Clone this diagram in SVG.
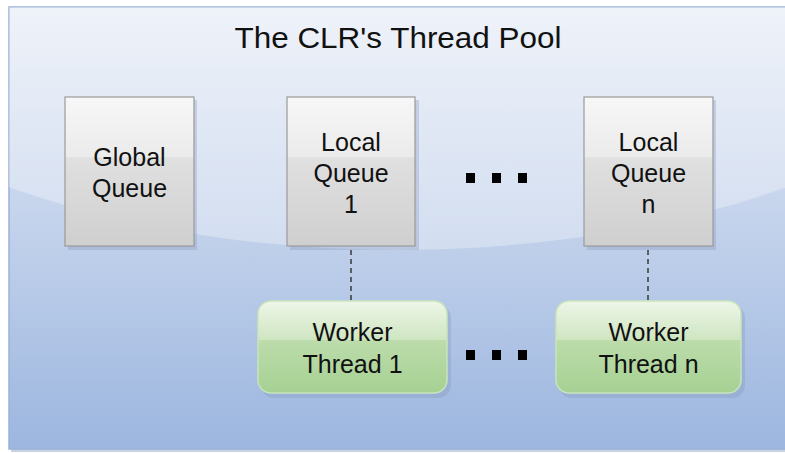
<svg xmlns="http://www.w3.org/2000/svg" width="785" height="453" viewBox="0 0 785 453">
<defs>
<linearGradient id="bg" x1="0" y1="0" x2="0" y2="1">
<stop offset="0" stop-color="#e8edf7"/>
<stop offset="1" stop-color="#9cb6df"/>
</linearGradient>
<linearGradient id="gray" x1="0" y1="0" x2="0" y2="1">
<stop offset="0" stop-color="#f7f7f7"/>
<stop offset="0.4" stop-color="#ebebeb"/>
<stop offset="0.41" stop-color="#e0e0e0"/>
<stop offset="1" stop-color="#cfcfcf"/>
</linearGradient>
<linearGradient id="green" x1="0" y1="0" x2="0" y2="1">
<stop offset="0" stop-color="#eef6e8"/>
<stop offset="0.42" stop-color="#cfe6c2"/>
<stop offset="0.43" stop-color="#bcdcab"/>
<stop offset="1" stop-color="#a6d193"/>
</linearGradient>
<clipPath id="panelClip"><rect x="9" y="7" width="780" height="442"/></clipPath>
</defs>
<style>
.q{fill:url(#gray);stroke:#9a9a9a;stroke-width:1.2}
.w{fill:url(#green);stroke:#c9e3bc;stroke-width:1.5}
.sh{fill:#7f93b5;opacity:0.3}
.t{font-family:"Liberation Sans",Arial,sans-serif;font-size:25px;fill:#111;text-anchor:middle}
.dot{fill:#000}
.conn{stroke:#222;stroke-width:1.3;stroke-dasharray:5,4;fill:none}
</style>
<rect x="11" y="10" width="778" height="442" fill="#c8d2e2"/>
<rect x="9" y="7" width="780" height="442" fill="url(#bg)" stroke="#9bb1d9" stroke-width="1.5"/>
<g clip-path="url(#panelClip)">
<ellipse cx="398" cy="-123" rx="700" ry="373" fill="#ffffff" opacity="0.3"/>
</g>
<text x="398" y="48" font-family="'Liberation Sans',Arial,sans-serif" font-size="29" fill="#111" text-anchor="middle" textLength="327" lengthAdjust="spacingAndGlyphs">The CLR's Thread Pool</text>
<g id="connectors">
<line class="conn" x1="351" y1="250" x2="351" y2="300"/>
<line class="conn" x1="648" y1="250" x2="648" y2="300"/>
</g>
<g id="dots1">
<rect class="dot" x="466" y="173" width="9" height="10"/>
<rect class="dot" x="492" y="173" width="9" height="10"/>
<rect class="dot" x="518" y="173" width="9" height="10"/>
</g>
<g id="dots2">
<rect class="dot" x="466" y="350" width="9" height="10"/>
<rect class="dot" x="492" y="350" width="9" height="10"/>
<rect class="dot" x="518" y="350" width="9" height="10"/>
</g>
<g id="global-queue">
<rect class="sh" x="68" y="100" width="129" height="150"/>
<rect class="q" x="65" y="97" width="129" height="149"/>
<text class="t" x="129.5" y="166">Global</text>
<text class="t" x="129.5" y="197">Queue</text>
</g>
<g id="local-queue-1">
<rect class="sh" x="290" y="100" width="129" height="150"/>
<rect class="q" x="287" y="97" width="128" height="149"/>
<text class="t" x="351" y="151">Local</text>
<text class="t" x="351" y="182">Queue</text>
<text class="t" x="351" y="213">1</text>
</g>
<g id="local-queue-n">
<rect class="sh" x="587" y="100" width="129" height="150"/>
<rect class="q" x="584" y="97" width="129" height="149"/>
<text class="t" x="648.5" y="151">Local</text>
<text class="t" x="648.5" y="182">Queue</text>
<text class="t" x="648.5" y="213">n</text>
</g>
<g id="worker-thread-1">
<rect class="sh" x="261" y="305" width="190" height="93" rx="13"/>
<rect class="w" x="258" y="301" width="189" height="92" rx="13"/>
<text class="t" x="352.5" y="341">Worker</text>
<text class="t" x="352.5" y="373">Thread 1</text>
</g>
<g id="worker-thread-n">
<rect class="sh" x="559" y="305" width="186" height="93" rx="13"/>
<rect class="w" x="556" y="301" width="185" height="92" rx="13"/>
<text class="t" x="648.5" y="341">Worker</text>
<text class="t" x="648.5" y="373">Thread n</text>
</g>
</svg>
